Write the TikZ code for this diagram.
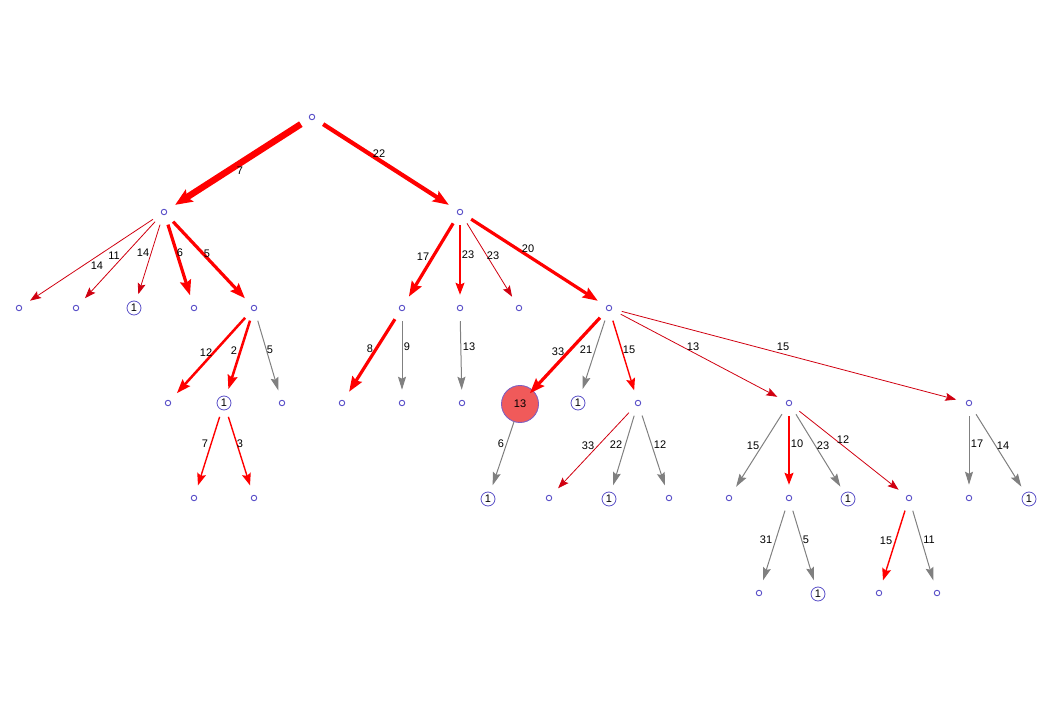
\documentclass[tikz,border=0pt]{standalone}
\usepackage{fontspec}
\setmainfont{Liberation Sans}
\usetikzlibrary{arrows.meta}
\definecolor{nodeblue}{HTML}{5A50C8}
\definecolor{thinred}{HTML}{D00010}
\definecolor{bigred}{HTML}{F05A5A}
\definecolor{bigborder}{HTML}{8060C0}
\definecolor{edgegray}{HTML}{808080}
\tikzset{
  sn/.style={circle,draw=nodeblue,line width=0.9pt,minimum size=5.5pt,inner sep=0pt,outer sep=10.5pt},
  on/.style={circle,draw=nodeblue,line width=0.8pt,fill=white,minimum size=14pt,inner sep=0pt,outer sep=7.5pt,font=\fontsize{11}{12}\selectfont},
  bn/.style={circle,draw=bigborder,line width=0.9pt,fill=bigred,minimum size=37pt,inner sep=0pt,outer sep=0pt,font=\fontsize{11}{12}\selectfont},
  lbl/.style={font=\fontsize{11}{13}\selectfont,inner sep=0pt},
  ethin/.style={draw=thinred,line width=0.8pt,-{Stealth[length=11pt,width=8pt,inset=2pt]}},
  eone/.style={draw=red,line width=1.4pt,-{Stealth[length=12pt,width=9pt,inset=2pt]}},
  etwo/.style={draw=red,line width=2.5pt,-{Stealth[length=14pt,width=10pt,inset=2pt]}},
  ethree/.style={draw=red,line width=3.2pt,-{Stealth[length=15pt,width=11pt,inset=2pt]}},
  efour/.style={draw=red,line width=4.2pt,-{Stealth[length=16pt,width=12pt,inset=3pt]}},
  eseven/.style={draw=red,line width=6.5pt,-{Stealth[length=17pt,width=14pt,inset=3pt]}},
  egray/.style={draw=edgegray,line width=1pt,-{Stealth[length=13pt,width=8pt,inset=2pt]}},
}
\begin{document}
\begin{tikzpicture}[x=1pt,y=-1pt]
\useasboundingbox (0,0) rectangle (1050,711);
% nodes
\node[sn] (R) at (312,117) {};
\node[sn] (A) at (164,212) {};
\node[sn] (B) at (460,212) {};
\node[sn] (a1) at (19,308) {};
\node[sn] (a2) at (76,308) {};
\node[on] (a3) at (134,308) {1};
\node[sn] (a4) at (194,308) {};
\node[sn] (a5) at (254,308) {};
\node[sn] (b1) at (402,308) {};
\node[sn] (b2) at (460,308) {};
\node[sn] (b3) at (519,308) {};
\node[sn] (b4) at (609,308) {};
\node[sn] (c1) at (168,403) {};
\node[on] (c2) at (224,403) {1};
\node[sn] (c3) at (282,403) {};
\node[sn] (d1) at (342,403) {};
\node[sn] (d2) at (402,403) {};
\node[sn] (e1) at (462,403) {};
\node[bn] (f1) at (520,404) {13};
\node[on] (f2) at (578,403) {1};
\node[sn] (f3) at (638,403) {};
\node[sn] (f4) at (789,403) {};
\node[sn] (f5) at (969,403) {};
\node[sn] (g1) at (194,498) {};
\node[sn] (g2) at (254,498) {};
\node[on] (h1) at (488,499) {1};
\node[sn] (i1) at (549,498) {};
\node[on] (i2) at (609,499) {1};
\node[sn] (i3) at (669,498) {};
\node[sn] (j1) at (729,498) {};
\node[sn] (j2) at (789,498) {};
\node[on] (j3) at (848,499) {1};
\node[sn] (j4) at (909,498) {};
\node[sn] (k1) at (969,498) {};
\node[on] (k2) at (1029,499) {1};
\node[sn] (l1) at (759,593) {};
\node[on] (l2) at (818,594) {1};
\node[sn] (m1) at (879,593) {};
\node[sn] (m2) at (937,593) {};
% edges
\draw[eseven] (R) -- (A) node[lbl] at (240,171) {7};
\draw[efour] (R) -- (B) node[lbl] at (379,154) {22};
\draw[ethin] (A) -- (a1) node[lbl] at (97,266) {14};
\draw[ethin] (A) -- (a2) node[lbl] at (114,256) {11};
\draw[ethin] (A) -- (a3) node[lbl] at (143,253) {14};
\draw[ethree] (A) -- (a4) node[lbl] at (180,253) {6};
\draw[ethree] (A) -- (a5) node[lbl] at (207,254) {5};
\draw[etwo] (a5) -- (c1) node[lbl] at (206,353) {12};
\draw[etwo] (a5) -- (c2) node[lbl] at (234,351) {2};
\draw[egray] (a5) -- (c3) node[lbl] at (270,350) {5};
\draw[eone] (c2) -- (g1) node[lbl] at (205,444) {7};
\draw[eone] (c2) -- (g2) node[lbl] at (240,444) {3};
\draw[ethree] (B) -- (b1) node[lbl] at (423,257) {17};
\draw[eone] (B) -- (b2) node[lbl] at (468,255) {23};
\draw[ethin] (B) -- (b3) node[lbl] at (493,256) {23};
\draw[ethree] (B) -- (b4) node[lbl] at (528,249) {20};
\draw[ethree] (b1) -- (d1) node[lbl] at (370,349) {8};
\draw[egray] (b1) -- (d2) node[lbl] at (407,347) {9};
\draw[egray] (b2) -- (e1) node[lbl] at (469,347) {13};
\draw[ethree,shorten >=-4pt] (b4) -- (f1) node[lbl] at (558,352) {33};
\draw[egray] (b4) -- (f2) node[lbl] at (586,350) {21};
\draw[eone] (b4) -- (f3) node[lbl] at (629,350) {15};
\draw[ethin] (b4) -- (f4) node[lbl] at (693,347) {13};
\draw[ethin] (b4) -- (f5) node[lbl] at (783,347) {15};
\draw[egray] (f1) -- (h1) node[lbl] at (501,444) {6};
\draw[ethin] (f3) -- (i1) node[lbl] at (588,446) {33};
\draw[egray] (f3) -- (i2) node[lbl] at (616,445) {22};
\draw[egray] (f3) -- (i3) node[lbl] at (660,445) {12};
\draw[egray] (f4) -- (j1) node[lbl] at (753,446) {15};
\draw[eone] (f4) -- (j2) node[lbl] at (797,444) {10};
\draw[egray] (f4) -- (j3) node[lbl] at (823,446) {23};
\draw[ethin] (f4) -- (j4) node[lbl] at (843,440) {12};
\draw[egray] (f5) -- (k1) node[lbl] at (977,444) {17};
\draw[egray] (f5) -- (k2) node[lbl] at (1003,446) {14};
\draw[egray] (j2) -- (l1) node[lbl] at (766,540) {31};
\draw[egray] (j2) -- (l2) node[lbl] at (806,540) {5};
\draw[eone] (j4) -- (m1) node[lbl] at (886,541) {15};
\draw[egray] (j4) -- (m2) node[lbl] at (929,540) {11};
\end{tikzpicture}
\end{document}
